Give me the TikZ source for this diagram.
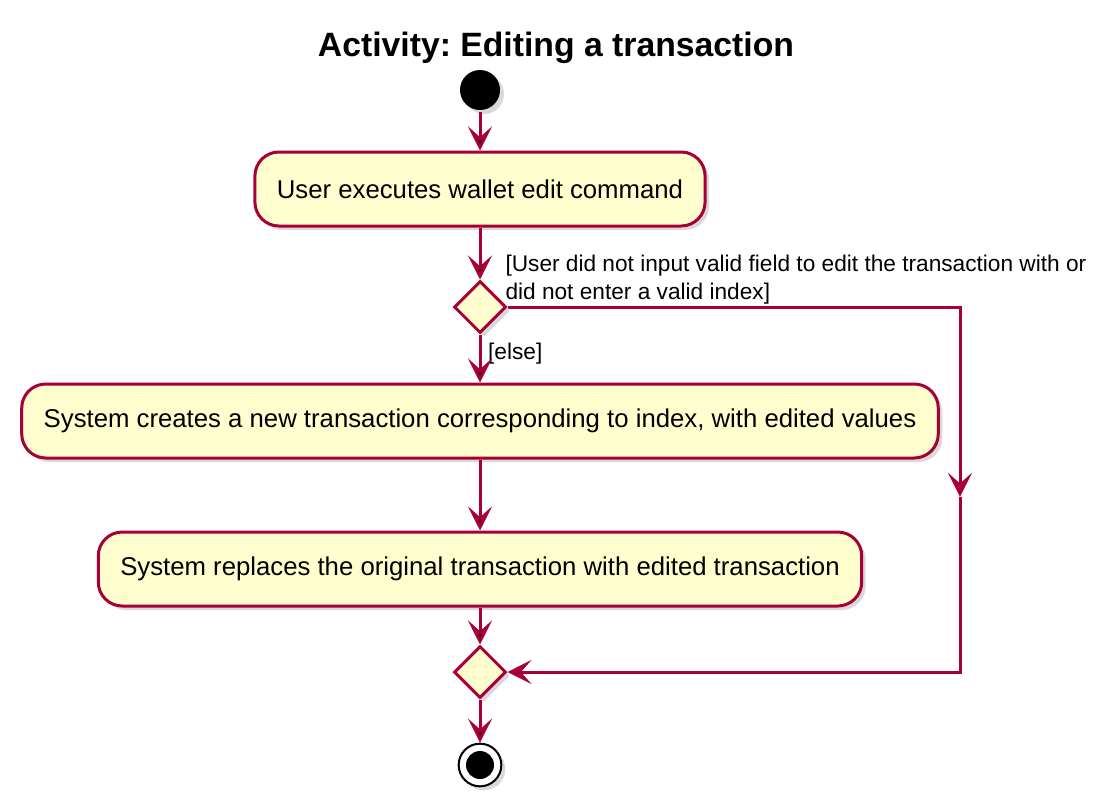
\documentclass[tikz,border=0pt]{standalone}
\usepackage{fontspec}
\setmainfont{Liberation Sans}
\usepackage{tikz}
\usetikzlibrary{positioning}
\usetikzlibrary{shapes.geometric,shadows,arrows.meta,calc}
\definecolor{umlred}{HTML}{A80036}
\definecolor{umlfill}{HTML}{FEFECE}
\frenchspacing
\tikzstyle{activity_style}=[
	line width=2.25pt,
	flow/.style={-{Stealth[length=18pt,width=18pt,inset=8pt]},draw=umlred,line width=2.25pt},
	shadowed/.style={drop shadow={shadow xshift=3pt,shadow yshift=-3pt,opacity=0.3}},
	action/.style={rectangle,rounded corners=18pt,draw=umlred,fill=umlfill,line width=2.25pt,minimum height=55.5pt,inner xsep=16.5pt,font=\fontsize{19.3}{23}\selectfont,shadowed},
	branch/.style={diamond,draw=umlred,fill=umlfill,line width=2.25pt,minimum size=39pt,inner sep=0pt,shadowed},
	startnode/.style={circle,fill=black,draw=none,minimum size=30pt,inner sep=0pt,shadowed},
	endnode/.style={circle,draw=black,fill=white,line width=1.5pt,minimum size=32pt,inner sep=0pt,shadowed,
		path picture={\fill[black] (path picture bounding box.center) circle (10.5pt);}},
	guard/.style={font=\fontsize{17}{21}\selectfont,inner sep=0pt,align=left},
	heading/.style={font=\fontsize{25.3}{29}\selectfont\bfseries}
]

\begin{document}
\begin{tikzpicture}[activity_style]
		\useasboundingbox (0,0) rectangle (835.5pt,-605.25pt);
		
		\node[heading]   (title) at (417pt,-36pt) {Activity: Editing a transaction};
		
		\node[startnode] (start) at (360pt,-67.5pt) {};
		\node[action]    (a1)[below of=start, node distance=74.25pt] {User executes wallet edit command};
		\node[branch]    (d1)[below of=a1, node distance=88.5pt] {};
		\node[action]    (a2)[below of=d1, node distance=85.5pt] {System creates a new transaction corresponding to index, with edited values};
		\node[action]    (a3)[below of=a2, node distance=111pt] {System replaces the original transaction with edited transaction};
		\node[branch]    (d2)[below of=a3, node distance=77.25pt] {};
		\node[endnode]   (end)[below of=d2, node distance=69.75pt] {};
		
		\node[guard, anchor=south west] (g1) at ([xshift=18pt,yshift=1pt]d1.center) {[User did not input valid field to edit the transaction with or\\did not enter a valid index]};
		\node[guard, anchor=north west] (g2) at ([xshift=5pt,yshift=-5pt]d1.south) {[else]};
		
		%   corner of the skip branch
		\coordinate (c1) at ($(d1)+(360pt,0)$);
		\coordinate (c2) at (c1 |- d2);
		\coordinate (cm) at ($(c1)!0.52!(c2)$);
		
		\path[flow] (start) edge (a1)
		(a1) edge (d1)
		(d1) edge (a2)
		(a2) edge (a3)
		(a3) edge (d2)
		(d2) edge (end);
		
		\draw[flow] (d1) -- (c1) -- (cm);
		\draw[flow] (cm) -- (c2) -- (d2);
		
\end{tikzpicture}
\end{document}
